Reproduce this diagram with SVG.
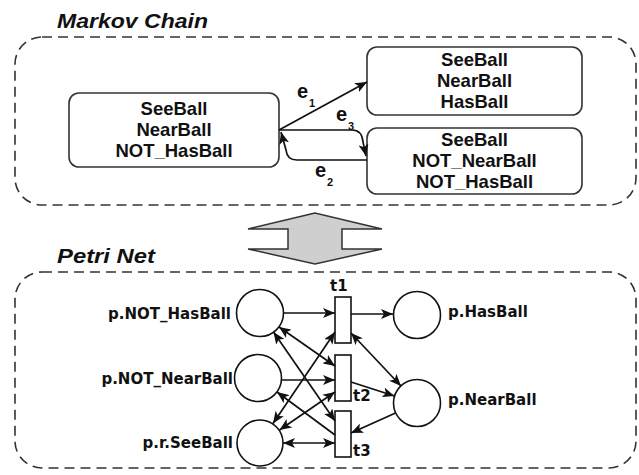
<svg xmlns="http://www.w3.org/2000/svg" width="639" height="475" viewBox="0 0 639 475">
  <defs>
    <!-- shared filled arrowhead; reversed automatically at line starts -->
    <marker id="ah" viewBox="0 0 12 10" markerWidth="12" markerHeight="10" refX="12" refY="5" orient="auto-start-reverse" markerUnits="userSpaceOnUse">
      <path d="M0,0 L12,5 L0,10 L3,5 z" fill="#111"/>
    </marker>
    <style>
      .frame { fill: none; stroke: #333; stroke-width: 1.6; stroke-dasharray: 10 6; }
      .title { font-family: "Liberation Sans", Arial, sans-serif; font-weight: bold; font-style: italic; font-size: 20px; fill: #111; }
      .state rect { fill: #fff; stroke: #333; stroke-width: 1.6; }
      .state text { font-family: "Liberation Sans", Arial, sans-serif; font-weight: bold; font-size: 18.5px; fill: #111; text-anchor: middle; }
      .edge { fill: none; stroke: #111; stroke-width: 1.7; marker-end: url(#ah); }
      .lbl { font-family: "Liberation Sans", Arial, sans-serif; font-weight: bold; font-size: 20px; fill: #111; }
      .sub { font-size: 11px; }
      .place circle { fill: #fff; stroke: #111; stroke-width: 1.6; }
      .trans rect { fill: #fff; stroke: #111; stroke-width: 1.6; }
      .place text, .trans text { font-family: "DejaVu Sans", Verdana, sans-serif; font-weight: bold; font-size: 15px; fill: #111; }
      .arc { stroke: #111; stroke-width: 1.7; fill: none; marker-end: url(#ah); }
      .both { marker-start: url(#ah); }
    </style>
  </defs>

  <rect width="639" height="475" fill="#fff"/>

  <!-- Markov chain panel -->
  <text class="title" x="57" y="28" textLength="151" lengthAdjust="spacingAndGlyphs">Markov Chain</text>
  <rect class="frame" x="15" y="37" width="621" height="168" rx="27"/>

  <g id="s0" class="state">
    <rect x="69" y="93" width="210" height="74" rx="10"/>
    <text x="174" y="115">SeeBall</text>
    <text x="174" y="136">NearBall</text>
    <text x="174" y="157">NOT_HasBall</text>
  </g>
  <g id="s1" class="state">
    <rect x="367" y="47" width="215" height="68" rx="10"/>
    <text x="474.5" y="66">SeeBall</text>
    <text x="474.5" y="87">NearBall</text>
    <text x="474.5" y="108">HasBall</text>
  </g>
  <g id="s2" class="state">
    <rect x="367" y="128" width="215" height="66" rx="10"/>
    <text x="474.5" y="146">SeeBall</text>
    <text x="474.5" y="167">NOT_NearBall</text>
    <text x="474.5" y="188">NOT_HasBall</text>
  </g>

  <g id="markov-edges">
    <path class="edge" d="M279,130 L367,82"/>
    <path class="edge" d="M279,130 L352,130 Q362,130 363,142 L366,156"/>
    <path class="edge" d="M367,160 L297,160 Q287,160 286,150 L281,132"/>
    <text class="lbl" x="297" y="98">e</text><text class="lbl sub" x="309" y="107">1</text>
    <text class="lbl" x="336" y="121">e</text><text class="lbl sub" x="348" y="130">3</text>
    <text class="lbl" x="315" y="177">e</text><text class="lbl sub" x="327" y="186">2</text>
  </g>

  <!-- mapping arrow between the two models -->
  <polygon points="315,213 248,229 288,229 288,249 248,249 315,264 382,249 342,249 342,229 382,229" fill="#cfcfcf" stroke="#333" stroke-width="1.5" stroke-linejoin="miter"/>

  <!-- Petri net panel -->
  <text class="title" x="57" y="263" textLength="98" lengthAdjust="spacingAndGlyphs">Petri Net</text>
  <rect class="frame" x="15" y="272" width="621" height="196" rx="27"/>

  <g id="p-not-hasball" class="place">
    <circle cx="260" cy="313" r="23.5"/>
    <text x="231" y="319" text-anchor="end">p.NOT_HasBall</text>
  </g>
  <g id="p-not-nearball" class="place">
    <circle cx="258" cy="378" r="23.5"/>
    <text x="233" y="384" text-anchor="end">p.NOT_NearBall</text>
  </g>
  <g id="p-r-seeball" class="place">
    <circle cx="260" cy="443" r="23"/>
    <text x="233" y="448" text-anchor="end">p.r.SeeBall</text>
  </g>
  <g id="p-hasball" class="place">
    <circle cx="417" cy="315" r="23.5"/>
    <text x="448" y="317">p.HasBall</text>
  </g>
  <g id="p-nearball" class="place">
    <circle cx="417" cy="403" r="23.5"/>
    <text x="448" y="405">p.NearBall</text>
  </g>

  <g id="t1" class="trans">
    <rect x="335" y="297" width="16" height="46"/>
    <text x="330" y="291">t1</text>
  </g>
  <g id="t2" class="trans">
    <rect x="335" y="355" width="16" height="46"/>
    <text x="353" y="401">t2</text>
  </g>
  <g id="t3" class="trans">
    <rect x="335" y="411" width="16" height="46"/>
    <text x="353" y="456">t3</text>
  </g>

  <g id="petri-arcs">
    <line class="arc" x1="284" y1="313" x2="335" y2="313"/>
    <line class="arc" x1="351" y1="314" x2="393" y2="314"/>
    <line class="arc" x1="282" y1="380" x2="335" y2="380"/>
    <line class="arc both" x1="351" y1="333" x2="401" y2="386"/>
    <line class="arc" x1="351" y1="382" x2="394.5" y2="396"/>
    <line class="arc" x1="395.5" y1="413" x2="351" y2="433"/>
    <line class="arc both" x1="283" y1="443" x2="335" y2="443"/>
    <line class="arc both" x1="279" y1="327" x2="335" y2="366"/>
    <line class="arc both" x1="273.5" y1="332" x2="335" y2="421"/>
    <line class="arc" x1="335" y1="435" x2="277" y2="392"/>
    <line class="arc both" x1="273" y1="423.5" x2="335" y2="332"/>
    <line class="arc both" x1="279.5" y1="430" x2="335" y2="392"/>
  </g>
</svg>
